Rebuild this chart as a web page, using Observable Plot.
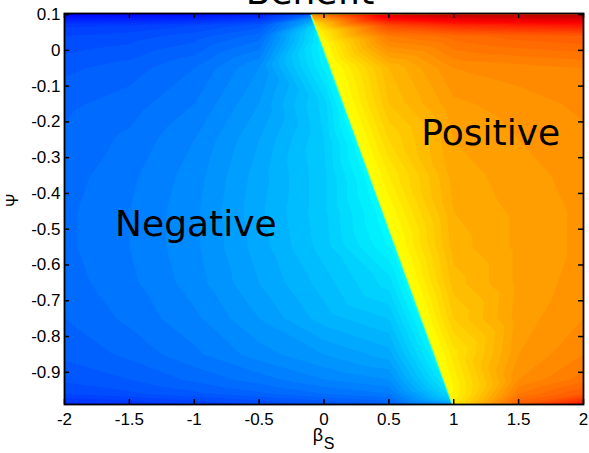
<!DOCTYPE html>
<html>
<head>
<meta charset="utf-8">
<script src="https://cdn.jsdelivr.net/npm/d3@7"></script>
<script src="https://cdn.jsdelivr.net/npm/@observablehq/plot@0.6"></script>
<style>
  html, body { margin: 0; padding: 0; background: #fff; }
  #chart svg { display: block; }
</style>
</head>
<body>
<div id="chart"></div>
<script>
// Sampled benefit surface over (beta_S, Psi); null = no sample next to the zero line
const betaCols = [-2, -1.5, -1, -0.5, 0, 0.5, 1, 1.5, 2];
const psiRows = [0.1, 0.07, 0.04, -0.05, -0.15, -0.25, -0.35, -0.45, -0.55, -0.65, -0.75, -0.85, -0.92, -0.96, -0.99];
const benefitRows = [
  [-0.73, -0.72, -0.71, -0.68,  null,  0.83,  0.89,  0.9,   0.9 ],
  [-0.625,-0.62, -0.6,  -0.57,  null,  0.62,  0.68,  0.7,   0.72],
  [-0.6,  -0.59, -0.57, -0.53,  null,  0.52,  0.55,  0.57,  0.58],
  [-0.565,-0.55, -0.52, -0.46,  null,  0.4,   0.48,  0.49,  0.5 ],
  [-0.545,-0.53, -0.5,  -0.44, -0.33,  0.38,  0.455, 0.47,  0.485],
  [-0.535,-0.515,-0.48, -0.42, -0.34,  0.34,  0.44,  0.46,  0.475],
  [-0.53, -0.505,-0.47, -0.41, -0.345, 0.3,   0.43,  0.45,  0.47],
  [-0.525,-0.5,  -0.465,-0.405,-0.345, null,  0.42,  0.445, 0.465],
  [-0.525,-0.5,  -0.465,-0.41, -0.35,  null,  0.41,  0.445, 0.465],
  [-0.53, -0.505,-0.47, -0.42, -0.37, -0.31,  0.39,  0.445, 0.47],
  [-0.54, -0.515,-0.485,-0.44, -0.39, -0.36,  0.36,  0.45,  0.48],
  [-0.555,-0.535,-0.505,-0.47, -0.44, -0.41,  0.31,  0.46,  0.5 ],
  [-0.575,-0.56, -0.535,-0.51, -0.48, -0.46,  null,  0.48,  0.53],
  [-0.6,  -0.585,-0.565,-0.545,-0.52, -0.5,   null,  0.52,  0.58],
  [-0.65, -0.64, -0.62, -0.6,  -0.58, -0.56,  null,  0.58,  0.72]
];

// Values just either side of the zero-benefit line
const boundaryPsi  = [0.1, 0.085, 0.07, 0.055, 0.04, 0.02, 0, -0.02, -0.04, -0.06, -0.08, -0.1, -0.12, -0.14, -0.16, -0.18, -0.2, -0.22, -0.24, -0.26, -0.28, -0.3, -0.32, -0.34, -0.36, -0.38, -0.4, -0.42, -0.44, -0.46, -0.48, -0.5, -0.52, -0.54, -0.56, -0.58, -0.6, -0.62, -0.64, -0.66, -0.68, -0.7, -0.72, -0.74, -0.76, -0.78, -0.8, -0.82, -0.84, -0.86, -0.88, -0.9, -0.92, -0.94, -0.96, -0.975, -0.99];
const boundaryBeta = [-0.1, -0.085, -0.07, -0.055, -0.04, -0.02, 0, 0.02, 0.04, 0.06, 0.08, 0.1, 0.12, 0.14, 0.16, 0.18, 0.2, 0.22, 0.24, 0.26, 0.28, 0.3, 0.32, 0.34, 0.36, 0.38, 0.4, 0.42, 0.44, 0.46, 0.48, 0.5, 0.52, 0.54, 0.56, 0.58, 0.6, 0.62, 0.64, 0.66, 0.68, 0.7, 0.72, 0.74, 0.76, 0.78, 0.8, 0.82, 0.84, 0.86, 0.88, 0.9, 0.92, 0.94, 0.96, 0.975, 0.99];
const boundaryNeg  = [-0.55, -0.42, -0.34, -0.3, -0.28, -0.27, -0.265, -0.262, -0.26, -0.258, -0.256, -0.255, -0.254, -0.253, -0.252, -0.251, -0.25, -0.25, -0.25, -0.25, -0.25, -0.25, -0.25, -0.25, -0.25, -0.25, -0.25, -0.25, -0.25, -0.25, -0.25, -0.25, -0.25, -0.25, -0.25, -0.25, -0.25, -0.25, -0.25, -0.25, -0.25, -0.25, -0.252, -0.254, -0.256, -0.258, -0.26, -0.262, -0.265, -0.268, -0.272, -0.278, -0.287, -0.3, -0.32, -0.36, -0.45];
const boundaryPos  = [0.5, 0.38, 0.31, 0.28, 0.27, 0.26, 0.255, 0.253, 0.252, 0.251, 0.25, 0.25, 0.25, 0.25, 0.25, 0.25, 0.25, 0.25, 0.25, 0.25, 0.25, 0.25, 0.25, 0.25, 0.25, 0.25, 0.25, 0.25, 0.25, 0.25, 0.25, 0.25, 0.25, 0.25, 0.25, 0.25, 0.25, 0.25, 0.25, 0.25, 0.25, 0.25, 0.25, 0.25, 0.25, 0.25, 0.25, 0.25, 0.25, 0.25, 0.252, 0.254, 0.257, 0.26, 0.27, 0.28, 0.3];

const xTicks = [-2, -1.5, -1, -0.5, 0, 0.5, 1, 1.5, 2];
const yTicks = [0.1, 0, -0.1, -0.2, -0.3, -0.4, -0.5, -0.6, -0.7, -0.8, -0.9];

const regionLabels = ["Negative", "Positive"];
const regionBeta = [-1.61, 0.75];
const regionPsi = [-0.486, -0.231];

// Jet colour map stops
const jetDomain = [-1, -0.75, -0.25, 0.25, 0.75, 1];
const jetRange = ["#000080", "#0000ff", "#00ffff", "#ffff00", "#ff0000", "#800000"];

// Flatten the samples into one table for the contour mark
const samples = [];
psiRows.forEach((psi, i) => betaCols.forEach((beta, j) => {
  const v = benefitRows[i][j];
  if (v != null) samples.push({beta, psi, benefit: v});
}));
const gap = 0.006;
boundaryPsi.forEach((psi, i) => {
  samples.push({beta: boundaryBeta[i] - gap, psi, benefit: boundaryNeg[i]});
  samples.push({beta: boundaryBeta[i] + gap, psi, benefit: boundaryPos[i]});
});

// Inward tick marks: short rules inset from the far side of the frame
const plotW = 589, plotH = 453, mT = 13, mL = 64, mR = 6, mB = 49, tickLen = 5;
const frameW = plotW - mL - mR, frameH = plotH - mT - mB;
const tickStyle = {stroke: "black", strokeWidth: 1.5};

const plot = Plot.plot({
  width: plotW,
  height: plotH,
  marginTop: mT,
  marginLeft: mL,
  marginRight: mR,
  marginBottom: mB,
  style: {fontFamily: "'Liberation Sans', Arial, sans-serif", fontSize: "17px", background: "#fff", overflow: "hidden"},
  x: {domain: [-2, 2]},
  y: {domain: [-0.99, 0.103]},
  color: {type: "linear", domain: jetDomain, range: jetRange, interpolate: "rgb"},
  marks: [
    Plot.contour(samples, {
      x: "beta", y: "psi", fill: "benefit",
      interpolate: "barycentric", thresholds: 80, pixelSize: 1, stroke: "none", clip: true
    }),
    Plot.ruleX(xTicks, {x: d => d, insetTop: frameH - tickLen, ...tickStyle}),
    Plot.ruleX(xTicks, {x: d => d, insetBottom: frameH - tickLen, ...tickStyle}),
    Plot.ruleY(yTicks, {y: d => d, insetRight: frameW - tickLen, ...tickStyle}),
    Plot.ruleY(yTicks, {y: d => d, insetLeft: frameW - tickLen, ...tickStyle}),
    Plot.frame({stroke: "black", strokeWidth: 1.8}),
    Plot.axisX(xTicks, {tickSize: 0, tickPadding: 8, tickFormat: d => String(d), label: null, fill: "black"}),
    Plot.axisY(yTicks, {tickSize: 0, tickPadding: 4, tickFormat: d => String(d), label: null, fill: "black"}),
    Plot.text(regionLabels, {
      x: (d, i) => regionBeta[i], y: (d, i) => regionPsi[i], text: d => d,
      textAnchor: "start", fontSize: 36, fontFamily: "DejaVu Sans", fill: "black"
    }),
    Plot.text(["Benefit"], {text: d => d, frameAnchor: "top", dx: -14, dy: -35, fontSize: 36, fontFamily: "DejaVu Sans", fill: "black"}),
    Plot.text(["Ψ"], {text: d => d, frameAnchor: "left", dx: -52, dy: -2, rotate: -90, fontSize: 16, fill: "black"}),
    Plot.text(["β"], {text: d => d, frameAnchor: "bottom", dx: -6, dy: 36, fontSize: 18, fill: "black"}),
    Plot.text(["S"], {text: d => d, frameAnchor: "bottom", dx: 5, dy: 44, fontSize: 16, fill: "black"})
  ]
});
document.getElementById("chart").appendChild(plot);
</script>
</body>
</html>
